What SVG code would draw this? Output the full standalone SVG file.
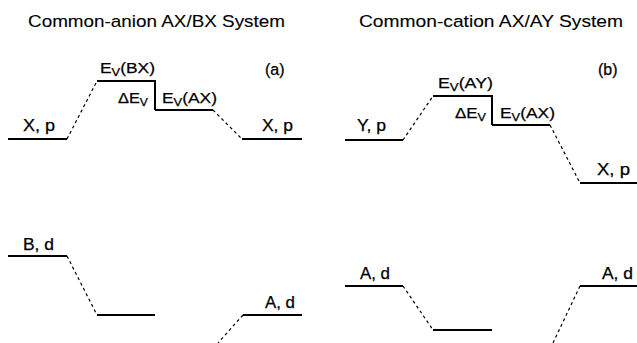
<svg xmlns="http://www.w3.org/2000/svg" width="637" height="343" viewBox="0 0 637 343">
<style>
text{font-family:"Liberation Sans",Arial,sans-serif;font-size:16px;fill:#000;stroke:#000;stroke-width:0.25}
.t{font-size:17px;stroke-width:0.1}
.e{font-size:15.5px}
.sub{font-size:11.5px}
.lv{stroke:#000;stroke-width:2;fill:none}
.ds{stroke:#000;stroke-width:1.2;stroke-dasharray:3,3;fill:none}
</style>
<rect width="637" height="343" fill="#fff"/>
<g id="titles">
<text class="t" x="28" y="27" textLength="257" lengthAdjust="spacingAndGlyphs">Common-anion AX/BX System</text>
<text class="t" x="359" y="27" textLength="264" lengthAdjust="spacingAndGlyphs">Common-cation AX/AY System</text>
<text x="265" y="75">(a)</text>
<text x="598" y="75">(b)</text>
</g>
<g id="connectors">
<path class="ds" d="M67,139 L97,81"/>
<path class="ds" d="M213,110 L242,139"/>
<path class="ds" d="M67,256 L97,315"/>
<path class="ds" d="M243,315 L218,343"/>
<path class="ds" d="M403,140 L433,96"/>
<path class="ds" d="M550,125 L580,183"/>
<path class="ds" d="M403,286 L433,330"/>
<path class="ds" d="M580,286 L553,343"/>
</g>
<g id="a-xp-left"><path class="lv" d="M8,139 H67"/><text x="23" y="131" textLength="32" lengthAdjust="spacingAndGlyphs">X, p</text></g>
<g id="a-ev-bx"><path class="lv" d="M97,81 H155 V110"/><text class="e" x="100" y="73" textLength="55" lengthAdjust="spacingAndGlyphs">E<tspan class="sub" dy="3">V</tspan><tspan dy="-3">(BX)</tspan></text></g>
<g id="a-dev"><text class="e" x="118" y="103" textLength="30" lengthAdjust="spacingAndGlyphs">ΔE<tspan class="sub" dy="3">V</tspan></text></g>
<g id="a-ev-ax"><path class="lv" d="M155,110 H213"/><text class="e" x="162" y="103" textLength="55" lengthAdjust="spacingAndGlyphs">E<tspan class="sub" dy="3">V</tspan><tspan dy="-3">(AX)</tspan></text></g>
<g id="a-xp-right"><path class="lv" d="M242,139 H302"/><text x="262" y="131" textLength="31" lengthAdjust="spacingAndGlyphs">X, p</text></g>
<g id="a-bd"><path class="lv" d="M8,256 H67"/><text x="23" y="250" textLength="31" lengthAdjust="spacingAndGlyphs">B, d</text></g>
<g id="a-bd-low"><path class="lv" d="M97,315 H155"/></g>
<g id="a-ad"><path class="lv" d="M243,315 H302"/><text x="265" y="308" textLength="30" lengthAdjust="spacingAndGlyphs">A, d</text></g>
<g id="b-yp"><path class="lv" d="M345,140 H403"/><text x="357" y="131" textLength="29" lengthAdjust="spacingAndGlyphs">Y, p</text></g>
<g id="b-ev-ay"><path class="lv" d="M433,96 H492 V125"/><text class="e" x="438" y="88" textLength="55" lengthAdjust="spacingAndGlyphs">E<tspan class="sub" dy="3">V</tspan><tspan dy="-3">(AY)</tspan></text></g>
<g id="b-dev"><text class="e" x="455" y="118" textLength="31" lengthAdjust="spacingAndGlyphs">ΔE<tspan class="sub" dy="3">V</tspan></text></g>
<g id="b-ev-ax"><path class="lv" d="M492,125 H550"/><text class="e" x="500" y="118" textLength="55" lengthAdjust="spacingAndGlyphs">E<tspan class="sub" dy="3">V</tspan><tspan dy="-3">(AX)</tspan></text></g>
<g id="b-xp"><path class="lv" d="M580,183 H637"/><text x="597" y="175" textLength="33" lengthAdjust="spacingAndGlyphs">X, p</text></g>
<g id="b-ad-left"><path class="lv" d="M345,286 H403"/><text x="360" y="279" textLength="30" lengthAdjust="spacingAndGlyphs">A, d</text></g>
<g id="b-ad-low"><path class="lv" d="M433,330 H492"/></g>
<g id="b-ad-right"><path class="lv" d="M580,286 H637"/><text x="602" y="279" textLength="31" lengthAdjust="spacingAndGlyphs">A, d</text></g>
</svg>
